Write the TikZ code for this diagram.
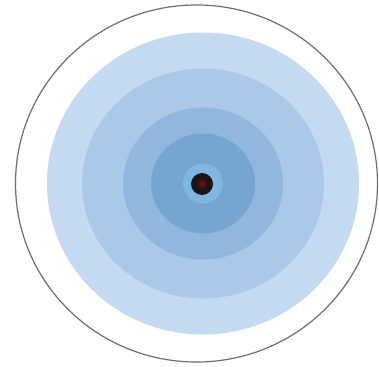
\documentclass[tikz,border=0pt]{standalone}
\begin{document}
\begin{tikzpicture}[x=1pt,y=-1pt]
\definecolor{ringA}{RGB}{196,218,240}
\definecolor{ringB}{RGB}{170,201,232}
\definecolor{ringC}{RGB}{145,184,220}
\definecolor{ringD}{RGB}{118,166,207}
\definecolor{ringE}{RGB}{128,182,226}
\definecolor{dotc}{RGB}{28,20,22}
\definecolor{edge}{RGB}{110,110,110}
\useasboundingbox (0,0) rectangle (379,366);
\fill[white] (0,0) rectangle (379,366);
\coordinate (c) at (203,183.5);
\draw[edge, line width=1.2pt] (196.5,183.5) ellipse [x radius=181, y radius=178.5];
\fill[ringA] (c) ellipse [x radius=156, y radius=151];
\fill[ringB] (c) ellipse [x radius=121, y radius=115];
\fill[ringC] (c) ellipse [x radius=80, y radius=76];
\fill[ringD] (c) ellipse [x radius=52, y radius=50];
\fill[ringE] (c) circle [radius=20];
\fill[dotc] (202,184) circle [radius=11];
\fill[red!30!dotc] (202,184) circle [radius=4];
\end{tikzpicture}
\end{document}
